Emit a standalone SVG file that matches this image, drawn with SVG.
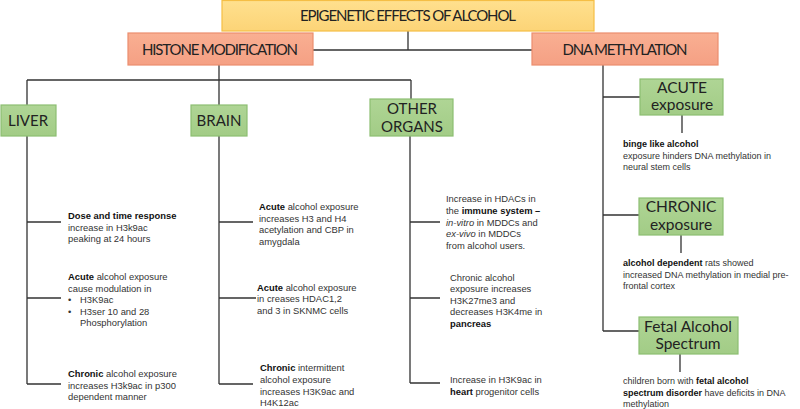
<svg xmlns="http://www.w3.org/2000/svg" width="800" height="409" viewBox="0 0 800 409">
<defs>
<linearGradient id="gY" x1="0" y1="0" x2="0" y2="1"><stop offset="0" stop-color="#FFE08E"/><stop offset="1" stop-color="#FCD477"/></linearGradient>
<linearGradient id="gS" x1="0" y1="0" x2="0" y2="1"><stop offset="0" stop-color="#F9AF92"/><stop offset="1" stop-color="#F5A084"/></linearGradient>
<linearGradient id="gG" x1="0" y1="0" x2="0" y2="1"><stop offset="0" stop-color="#AFD595"/><stop offset="1" stop-color="#A2CC86"/></linearGradient>
<style>
.title{fill:url(#gY);stroke:#F5BE45;stroke-width:1.2}
.sal{fill:url(#gS);stroke:#EC8E6E;stroke-width:1.2}
.grn{fill:url(#gG);stroke:#8DBE72;stroke-width:1.2}
.lbl{font-family:Lato,"Liberation Sans",sans-serif;font-size:15px;fill:#222;text-anchor:middle}
.glbl{font-family:Lato,"Liberation Sans",sans-serif;font-size:15.5px;fill:#222;text-anchor:middle}
.t{font-family:"Liberation Sans",Arial,sans-serif;font-size:9.4px;fill:#333}
.d{font-family:"Liberation Sans",Arial,sans-serif;font-size:9px;fill:#333}
.b{font-weight:bold;fill:#111}
.i{font-style:italic}
.ln{stroke:#333;stroke-width:1.3;fill:none}
</style>
</defs>
<g id="connectors">
<path class="ln" d="M408 31V50M313 50H532"/>
<path class="ln" d="M219 65V80M27 80H411M27 80V105M219 80V105M411 80V99"/>
<path class="ln" d="M27 136V384M27 222H61M27 298H61M27 384H61"/>
<path class="ln" d="M219 136V384M219 222H253M219 298H256M219 384H253"/>
<path class="ln" d="M410 136V383M410 222H440M410 298H440M410 383H440"/>
<path class="ln" d="M603 65V331M603 97H640M603 215H639M603 331H639"/>
<path class="ln" d="M682 115V133M681 235V253M680 354V372"/>
</g>
<g id="n-title"><rect class="title" x="222" y="0.5" width="372" height="30.5"/><text class="lbl" x="408" y="21" textLength="216">EPIGENETIC EFFECTS OF ALCOHOL</text></g>
<g id="n-histone"><rect class="sal" x="128" y="33" width="185" height="32"/><text class="lbl" x="220" y="54.5" textLength="156">HISTONE MODIFICATION</text></g>
<g id="n-dna"><rect class="sal" x="532" y="33" width="186" height="32"/><text class="lbl" x="625" y="54.5" textLength="125">DNA METHYLATION</text></g>
<g id="n-liver"><rect class="grn" x="1" y="105" width="55" height="31"/><text class="lbl" x="28" y="126">LIVER</text></g>
<g id="n-brain"><rect class="grn" x="191" y="105" width="56" height="31"/><text class="lbl" x="219" y="126">BRAIN</text></g>
<g id="n-other"><rect class="grn" x="370" y="99" width="83" height="37"/><text class="lbl" x="412" y="113.5">OTHER</text><text class="lbl" x="412" y="132">ORGANS</text></g>
<g id="n-acute"><rect class="grn" x="640" y="79" width="83" height="36"/><text class="glbl" x="682" y="93">ACUTE</text><text class="glbl" x="682" y="110">exposure</text></g>
<g id="n-chronic"><rect class="grn" x="639" y="198" width="84" height="37"/><text class="glbl" x="681" y="212">CHRONIC</text><text class="glbl" x="681" y="230">exposure</text></g>
<g id="n-fetal"><rect class="grn" x="639" y="317" width="99" height="37"/><text class="glbl" x="688" y="331.5">Fetal Alcohol</text><text class="glbl" x="688" y="349">Spectrum</text></g>
<g id="n-liver-1"><text class="t" x="68"><tspan x="68" y="219" class="b">Dose and time response</tspan><tspan x="68" y="231">increase in H3k9ac</tspan><tspan x="68" y="242">peaking at 24 hours</tspan></text></g>
<g id="n-liver-2"><text class="t"><tspan x="68" y="280"><tspan class="b">Acute</tspan> alcohol exposure</tspan><tspan x="68" y="292">cause modulation in</tspan><tspan x="68" y="303">•</tspan><tspan x="80" y="303">H3K9ac</tspan><tspan x="68" y="315">•</tspan><tspan x="80" y="315">H3ser 10 and 28</tspan><tspan x="80" y="326">Phosphorylation</tspan></text></g>
<g id="n-liver-3"><text class="t"><tspan x="68" y="377"><tspan class="b">Chronic</tspan> alcohol exposure</tspan><tspan x="68" y="388.5">increases H3k9ac in p300</tspan><tspan x="68" y="400">dependent manner</tspan></text></g>
<g id="n-brain-1"><text class="t"><tspan x="259" y="210"><tspan class="b">Acute</tspan> alcohol exposure</tspan><tspan x="259" y="221.5">increases H3 and H4</tspan><tspan x="259" y="233">acetylation and CBP in</tspan><tspan x="259" y="244.5">amygdala</tspan></text></g>
<g id="n-brain-2"><text class="t"><tspan x="257" y="291"><tspan class="b">Acute</tspan> alcohol exposure</tspan><tspan x="257" y="302">in creases HDAC1,2</tspan><tspan x="257" y="313.5">and 3 in SKNMC cells</tspan></text></g>
<g id="n-brain-3"><text class="t"><tspan x="260" y="371"><tspan class="b">Chronic</tspan> intermittent</tspan><tspan x="260" y="383">alcohol exposure</tspan><tspan x="260" y="394.5">increases H3K9ac and</tspan><tspan x="260" y="406">H4K12ac</tspan></text></g>
<g id="n-other-1"><text class="t"><tspan x="446" y="202">Increase in HDACs in</tspan><tspan x="446" y="214">the <tspan class="b">immune system –</tspan></tspan><tspan x="446" y="225.5"><tspan class="i">in-vitro</tspan> in MDDCs and</tspan><tspan x="446" y="237"><tspan class="i">ex-vivo</tspan> in MDDCs</tspan><tspan x="446" y="248.5">from alcohol users.</tspan></text></g>
<g id="n-other-2"><text class="t"><tspan x="450" y="281">Chronic alcohol</tspan><tspan x="450" y="292">exposure increases</tspan><tspan x="450" y="303.5">H3K27me3 and</tspan><tspan x="450" y="315">decreases H3K4me in</tspan><tspan x="450" y="327" class="b">pancreas</tspan></text></g>
<g id="n-other-3"><text class="t"><tspan x="450" y="383">Increase in H3K9ac in</tspan><tspan x="450" y="394.5"><tspan class="b">heart</tspan> progenitor cells</tspan></text></g>
<g id="n-acute-t"><text class="d"><tspan x="623" y="147" class="b">binge like alcohol</tspan><tspan x="623" y="159">exposure hinders DNA methylation in</tspan><tspan x="623" y="170">neural stem cells</tspan></text></g>
<g id="n-chronic-t"><text class="d"><tspan x="623" y="266"><tspan class="b">alcohol dependent</tspan> rats showed</tspan><tspan x="623" y="278">increased DNA methylation in medial pre-</tspan><tspan x="623" y="289">frontal cortex</tspan></text></g>
<g id="n-fetal-t"><text class="d"><tspan x="623" y="384">children born with <tspan class="b">fetal alcohol</tspan></tspan><tspan x="623" y="396"><tspan class="b">spectrum disorder</tspan> have deficits in DNA</tspan><tspan x="623" y="407">methylation</tspan></text></g>
</svg>
